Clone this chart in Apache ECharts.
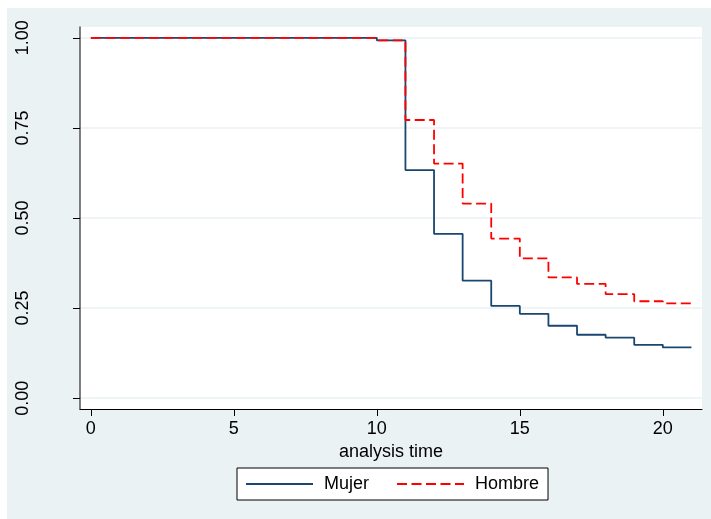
<!DOCTYPE html>
<html>
<head>
<meta charset="utf-8">
<script src="https://cdn.jsdelivr.net/npm/echarts@6/dist/echarts.min.js"></script>
<style>
    html, body { margin: 0; padding: 0; background: #fff; }
    #chart { width: 711px; height: 519px; }
</style>
</head>
<body>
<div id="chart"></div>
<script>
// tiempos de analisis y supervivencia estimada por grupo
const times = [0, 10, 11, 12, 13, 14, 15, 16, 17, 18, 19, 20, 21];
const mujer = [1.0, 0.993, 0.633, 0.456, 0.326, 0.256, 0.234, 0.201, 0.176, 0.168, 0.148, 0.141, 0.141];
const hombre = [1.0, 0.993, 0.772, 0.651, 0.540, 0.443, 0.388, 0.335, 0.317, 0.289, 0.269, 0.263, 0.263];
const xTicks = [0, 5, 10, 15, 20];
const yTicks = [0, 0.25, 0.5, 0.75, 1];
const seriesNames = ['Mujer', 'Hombre'];

const font = '"Liberation Sans", Arial, sans-serif';

let chart = echarts.init(document.getElementById('chart'), null, { renderer: 'canvas' });

let option = {
    backgroundColor: '#fff',
    animation: false,
    graphic: [
        {
            type: 'rect',
            z: -10,
            silent: true,
            shape: { x: 7, y: 8, width: 704, height: 511 },
            style: { fill: '#eaf2f3' }
        }
    ],
    grid: {
        left: 80,
        right: 9,
        top: 27,
        bottom: 110,
        show: true,
        backgroundColor: '#fff',
        borderWidth: 0
    },
    legend: {
        left: 237,
        top: 468,
        width: 308,
        height: 33,
        padding: [7, 9, 7, 8],
        itemGap: 27,
        itemWidth: 67,
        itemHeight: 14,
        backgroundColor: '#fff',
        borderColor: '#000',
        borderWidth: 1,
        borderRadius: 0,
        itemStyle: { opacity: 0, borderWidth: 0 },
        textStyle: { fontFamily: font, fontSize: 18, color: '#000', padding: [0, 0, 0, 6] },
        data: seriesNames
    },
    xAxis: {
        type: 'value',
        min: -0.38,
        max: 21.37,
        name: 'analysis time',
        nameLocation: 'middle',
        nameGap: 29,
        nameTextStyle: { fontFamily: font, fontSize: 18, color: '#000' },
        axisLine: { show: true, onZero: false, lineStyle: { color: '#000', width: 1 } },
        axisTick: { show: true, length: 7, customValues: xTicks, lineStyle: { color: '#000' } },
        axisLabel: {
            customValues: xTicks,
            margin: 11,
            fontFamily: font,
            fontSize: 18,
            color: '#000'
        },
        splitLine: { show: false }
    },
    yAxis: {
        type: 'value',
        min: -0.03,
        max: 1.03,
        axisLine: { show: true, onZero: false, lineStyle: { color: '#555', width: 1.5 } },
        axisTick: { show: true, length: 7, customValues: yTicks, lineStyle: { color: '#000' } },
        axisLabel: {
            customValues: yTicks,
            rotate: 90,
            margin: 48,
            fontFamily: font,
            fontSize: 18,
            color: '#000',
            formatter: v => v.toFixed(2)
        },
        splitLine: { show: false }
    },
    series: [
        {
            name: 'grid',
            type: 'line',
            data: [],
            silent: true,
            z: 0,
            markLine: {
                silent: true,
                symbol: 'none',
                z: 0,
                label: { show: false },
                lineStyle: { color: '#eaf2f3', width: 1.5, type: 'solid' },
                data: yTicks.map(v => ({ yAxis: v }))
            }
        },
        {
            name: seriesNames[0],
            type: 'line',
            step: 'end',
            symbol: 'none',
            z: 3,
            data: times.map((t, i) => [t, mujer[i]]),
            lineStyle: { color: '#1a476f', width: 1.8 },
            itemStyle: { color: '#1a476f' }
        },
        {
            name: seriesNames[1],
            type: 'line',
            step: 'end',
            symbol: 'none',
            z: 4,
            data: times.map((t, i) => [t, hombre[i]]),
            lineStyle: { color: '#ff0000', width: 1.8, type: [10, 4.5] },
            itemStyle: { color: '#ff0000' }
        }
    ]
};

chart.setOption(option);
</script>
</body>
</html>
